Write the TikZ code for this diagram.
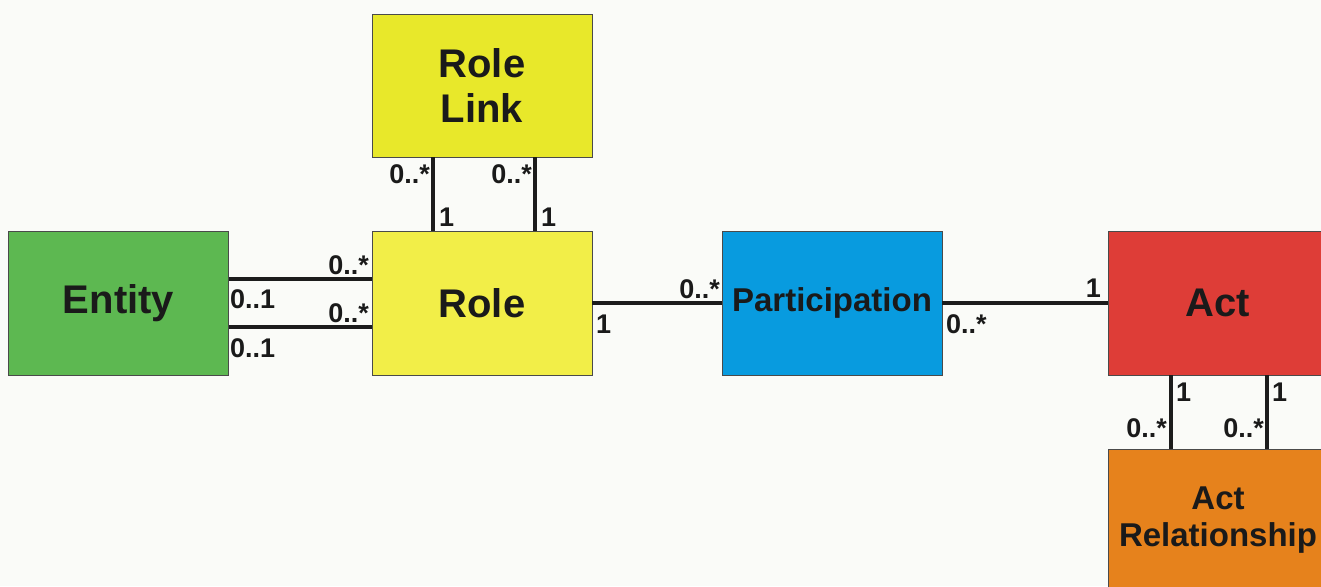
\documentclass[tikz,border=0pt]{standalone}
\usepackage{fontspec}
\setmainfont{Liberation Sans}
\definecolor{bgc}{HTML}{FAFBF8}
\definecolor{rolelinkc}{HTML}{E8E82A}
\definecolor{rolec}{HTML}{F2EE48}
\definecolor{entityc}{HTML}{5DB851}
\definecolor{partc}{HTML}{089BDF}
\definecolor{actc}{HTML}{DE3D37}
\definecolor{actrelc}{HTML}{E6821C}
\definecolor{lnc}{HTML}{1C1C1C}
\definecolor{txtc}{HTML}{1A1A1A}
\definecolor{boxlinec}{HTML}{4A4A4A}
\begin{document}
\begin{tikzpicture}[x=1pt,y=-1pt,
  box/.style={draw=boxlinec, line width=0.8pt, minimum width=220pt, minimum height=144pt, inner sep=0pt, align=center, font=\bfseries\fontsize{40}{45}\selectfont, text=txtc},
  smallbox/.style={box, font=\bfseries\fontsize{33}{37}\selectfont},
  conn/.style={line width=3.2pt, draw=lnc},
  lab/.style={inner sep=0pt, font=\bfseries\fontsize{27}{27}\selectfont, text=txtc}]
\fill[bgc] (0,0) rectangle (1321,586);
\clip (0,0) rectangle (1321,586);
% boxes
\node[box, fill=rolelinkc, minimum height=143pt] (rl) at (482,85.5) {Role\\Link};
\node[box, fill=entityc] (en) at (118.5,303) {Entity};
\node[box, fill=rolec] (ro) at (482,303) {Role};
\node[smallbox, fill=partc] (pa) at (832,303) {Participation};
\node[box, fill=actc] (ac) at (1218,303) {Act};
\node[smallbox, fill=actrelc, minimum height=143pt] (ar) at (1218,520.5) {Act\\Relationship};
% connectors
\draw[conn] ([yshift=24pt]en.east) -- ([yshift=24pt]ro.west);
\draw[conn] ([yshift=-24pt]en.east) -- ([yshift=-24pt]ro.west);
\draw[conn] ([xshift=-49pt]rl.south) -- ([xshift=-49pt]ro.north);
\draw[conn] ([xshift=53pt]rl.south) -- ([xshift=53pt]ro.north);
\draw[conn] (ro) -- (pa);
\draw[conn] (pa) -- (ac);
\draw[conn] ([xshift=-47pt]ac.south) -- ([xshift=-47pt]ar.north);
\draw[conn] ([xshift=49pt]ac.south) -- ([xshift=49pt]ar.north);
% multiplicities
\node[lab, anchor=base east] (l1) at (430,183) {0..*};
\node[lab, anchor=base west] (l2) at (439,226) {1};
\node[lab, anchor=base east] (l3) at (532,183) {0..*};
\node[lab, anchor=base west] (l4) at (541,226) {1};
\node[lab, anchor=base east] (l5) at (369,274) {0..*};
\node[lab, anchor=base west] (l6) at (230,308) {0..1};
\node[lab, anchor=base east] (l7) at (369,322) {0..*};
\node[lab, anchor=base west] (l8) at (230,357) {0..1};
\node[lab, anchor=base east] (l9) at (720,298) {0..*};
\node[lab, anchor=base west] (l10) at (596,333) {1};
\node[lab, anchor=base west] (l11) at (946,333) {0..*};
\node[lab, anchor=base east] (l12) at (1101,297) {1};
\node[lab, anchor=base west] (l13) at (1176,401) {1};
\node[lab, anchor=base west] (l14) at (1272,401) {1};
\node[lab, anchor=base east] (l15) at (1167,437) {0..*};
\node[lab, anchor=base east] (l16) at (1264,437) {0..*};
\end{tikzpicture}
\end{document}
